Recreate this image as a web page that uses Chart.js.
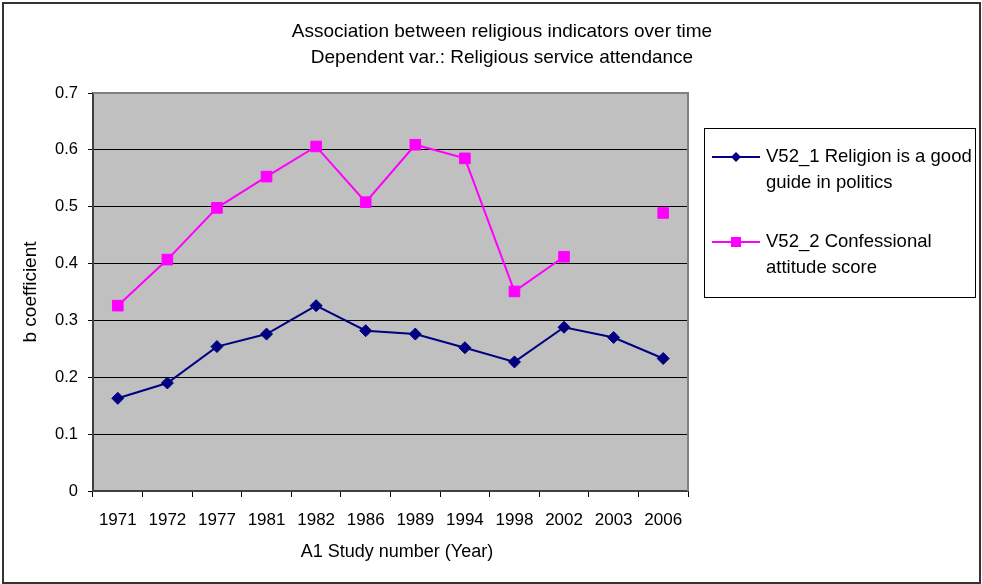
<!DOCTYPE html>
<html>
<head>
<meta charset="utf-8">
<script src="https://cdn.jsdelivr.net/npm/chart.js@4/dist/chart.umd.min.js"></script>
<style>
  html, body { margin: 0; padding: 0; background: #fff; }
  #wrap { position: relative; width: 982px; height: 584px; }
</style>
</head>
<body>
<div id="wrap"><canvas id="c" width="982" height="584"></canvas></div>
<script>
// Survey years (study number)
const years = ['1971', '1972', '1977', '1981', '1982', '1986', '1989', '1994', '1998', '2002', '2003', '2006'];

// b coefficients, dependent variable: religious service attendance
const religionGoodGuide = [0.163, 0.190, 0.254, 0.276, 0.326, 0.282, 0.276, 0.252, 0.227, 0.288, 0.270, 0.233];
const confessionalScore = [0.326, 0.407, 0.498, 0.553, 0.606, 0.508, 0.609, 0.585, 0.351, 0.412, null, 0.489];

const yTicks = [0, 0.1, 0.2, 0.3, 0.4, 0.5, 0.6, 0.7];

const titleLines = ['Association between religious indicators over time', 'Dependent var.: Religious service attendance'];
const xTitle = 'A1 Study number (Year)';
const legendLines = [
  ['V52_1 Religion is a good', 'guide in politics'],
  ['V52_2 Confessional', 'attitude score']
];

const FONT = '"Liberation Sans", Arial, sans-serif';

// Frame, plot background, titles and the boxed legend
const decor = {
  id: 'decor',
  beforeDraw(chart) {
    const ctx = chart.ctx, a = chart.chartArea;
    ctx.save();
    ctx.fillStyle = '#fff';
    ctx.fillRect(0, 0, chart.width, chart.height);
    ctx.fillStyle = '#C0C0C0';
    ctx.fillRect(a.left, a.top, a.right - a.left, a.bottom - a.top);
    ctx.strokeStyle = '#333';
    ctx.lineWidth = 2;
    ctx.strokeRect(3, 3, chart.width - 5, chart.height - 4);
    ctx.restore();
  },
  beforeDatasetsDraw(chart) {
    const ctx = chart.ctx, a = chart.chartArea;
    ctx.save();
    ctx.strokeStyle = '#808080';
    ctx.lineWidth = 2;
    ctx.beginPath();
    ctx.moveTo(a.left, a.top);
    ctx.lineTo(a.right, a.top);
    ctx.lineTo(a.right, a.bottom);
    ctx.stroke();
    ctx.restore();
  },
  afterDraw(chart) {
    const ctx = chart.ctx;
    ctx.save();
    ctx.fillStyle = '#000';
    ctx.font = '19px ' + FONT;
    ctx.textAlign = 'center';
    ctx.textBaseline = 'middle';
    ctx.fillText(titleLines[0], 502, 32);
    ctx.fillText(titleLines[1], 502, 58);

    // x axis title
    ctx.font = '18px ' + FONT;
    ctx.fillText(xTitle, 397, 552);

    // legend box
    ctx.strokeStyle = '#000';
    ctx.lineWidth = 1;
    ctx.strokeRect(704.5, 128.5, 271, 169);
    const rows = [157, 242];
    chart.data.datasets.forEach((ds, i) => {
      const y = rows[i];
      ctx.strokeStyle = ds.borderColor;
      ctx.lineWidth = 2;
      ctx.beginPath();
      ctx.moveTo(712, y);
      ctx.lineTo(760, y);
      ctx.stroke();
      ctx.fillStyle = ds.backgroundColor;
      ctx.beginPath();
      if (ds.pointStyle === 'rectRot') {
        ctx.moveTo(736, y - 5); ctx.lineTo(741, y); ctx.lineTo(736, y + 5); ctx.lineTo(731, y);
        ctx.closePath();
      } else {
        ctx.rect(731, y - 5, 10, 10);
      }
      ctx.fill();
      ctx.fillStyle = '#000';
      ctx.textAlign = 'left';
      ctx.font = '18.5px ' + FONT;
      legendLines[i].forEach((t, k) => ctx.fillText(t, 766, y + k * 26));
    });
    ctx.restore();
  }
};

new Chart(document.getElementById('c'), {
  type: 'line',
  data: {
    labels: years,
    datasets: [
      {
        label: legendLines[0].join(' '),
        data: religionGoodGuide,
        borderColor: '#000080',
        backgroundColor: '#000080',
        borderWidth: 2,
        pointStyle: 'rectRot',
        pointRadius: 6,
        pointBorderWidth: 1,
        tension: 0
      },
      {
        label: legendLines[1].join(' '),
        data: confessionalScore,
        borderColor: '#FF00FF',
        backgroundColor: '#FF00FF',
        borderWidth: 2,
        pointStyle: 'rect',
        pointRadius: 7.5,
        pointBorderWidth: 1,
        spanGaps: false,
        tension: 0
      }
    ]
  },
  options: {
    responsive: false,
    animation: false,
    events: [],
    layout: { padding: { left: 0, right: 294, top: 93, bottom: 0 } },
    plugins: {
      legend: { display: false },
      title: { display: false },
      tooltip: { enabled: false }
    },
    scales: {
      x: {
        type: 'category',
        offset: true,
        afterFit(s) { s.height = 93; },
        grid: { offset: true, drawOnChartArea: false, drawTicks: true, tickLength: 6, color: '#000', lineWidth: 1 },
        border: { display: true, color: '#404040', width: 2 },
        ticks: { color: '#000', font: { family: FONT, size: 17 }, padding: 13, maxRotation: 0, autoSkip: false },
        title: { display: false }
      },
      y: {
        min: 0,
        max: 0.7,
        afterFit(s) { s.width = 93; },
        afterBuildTicks(s) { s.ticks = yTicks.map(v => ({ value: v })); },
        grid: { color: '#000', lineWidth: 1, drawTicks: true, tickLength: 5 },
        border: { display: true, color: '#404040', width: 2 },
        ticks: {
          color: '#000', font: { family: FONT, size: 16.5 }, padding: 10,
          callback: v => (v === 0 ? '0' : v.toFixed(1))
        },
        title: { display: true, text: 'b coefficient', color: '#000', font: { family: FONT, size: 19 }, padding: { top: 19, bottom: 0 } }
      }
    }
  },
  plugins: [decor]
});
</script>
</body>
</html>
